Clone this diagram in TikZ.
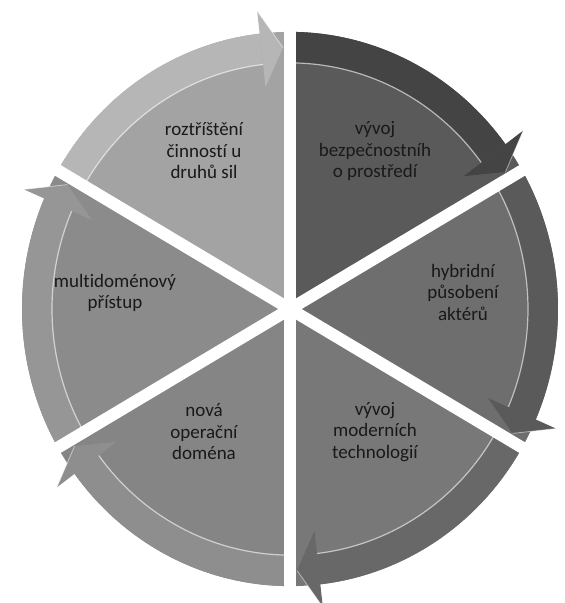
\documentclass[tikz,border=0pt]{standalone}
\usepackage{fontspec}
\setmainfont{Carlito}[Ligatures=CommonOff]
\usetikzlibrary{positioning}

\definecolor{segA}{HTML}{A3A3A3}
\definecolor{bandA}{HTML}{B6B6B6}
\definecolor{segB}{HTML}{5A5A5A}
\definecolor{bandB}{HTML}{444444}
\definecolor{segC}{HTML}{6E6E6E}
\definecolor{bandC}{HTML}{5A5A5A}
\definecolor{segD}{HTML}{787878}
\definecolor{bandD}{HTML}{686868}
\definecolor{segE}{HTML}{858585}
\definecolor{bandE}{HTML}{8E8E8E}
\definecolor{segF}{HTML}{8B8B8B}
\definecolor{bandF}{HTML}{969696}

\begin{document}
\begin{tikzpicture}[x=1pt,y=1pt,
    segtext/.style={align=center,text=black!90,font=\fontsize{19}{21.5}\selectfont}]
    \useasboundingbox (0,0) rectangle (565,603);
    \begin{scope}[shift={(290,294)},yscale=1.034]
      % Slices with their rim band
      \foreach \a/\body/\band in {150/segA/bandA,90/segB/bandB,30/segC/bandC,-30/segD/bandD,-90/segE/bandE,-150/segF/bandF}{
        \pgfmathsetmacro\b{\a-60}
        \pgfmathsetmacro\back{\b+6.5}
        \fill[\body] (0,0) -- (\a:268) arc[start angle=\a,end angle=\b,radius=268] -- cycle;
        \fill[\band] (\a:268) arc[start angle=\a,end angle=\back,radius=268]
          -- (\back:238) arc[start angle=\back,end angle=\a,radius=238] -- cycle;
        \draw[white,opacity=.6,line width=1.2pt] (\a:238) arc[start angle=\a,end angle=\back,radius=238];
      }
      % Gaps between slices
      \foreach \a in {90,30,-30,-90,-150,150}
        \draw[white,line width=12pt] (0,0) -- (\a:300);
      % Arrow heads
      \foreach \a/\band in {150/bandA,90/bandB,30/bandC,-30/bandD,-90/bandE,-150/bandF}{
        \pgfmathsetmacro\b{\a-60}
        \pgfmathsetmacro\back{\b+6.5}
        \pgfmathsetmacro\tip{\b+1.6}
        \fill[\band] (\back:290) -- (\tip:253) -- (\back:216) -- cycle;
        \draw[white,opacity=.5,line width=0.8pt] (\back:290) -- (\tip:253);
      }
    \end{scope}
    % Texts
    \node[segtext] (rozt) at (204,452) {roztříštění\\činností u\\druhů sil};
    \node[segtext] (bezp) at (375,452) {vývoj\\bezpečnostníh\\o prostředí};
    \node[segtext] (hybr) at (463,311) {hybridní\\působení\\aktérů};
    \node[segtext] (tech) at (375,171) {vývoj\\moderních\\technologií};
    \node[segtext] (doma) at (204,171) {nová\\operační\\doména};
    \node[segtext] (mult) at (115,310) {multidoménový\\přístup};
\end{tikzpicture}
\end{document}
